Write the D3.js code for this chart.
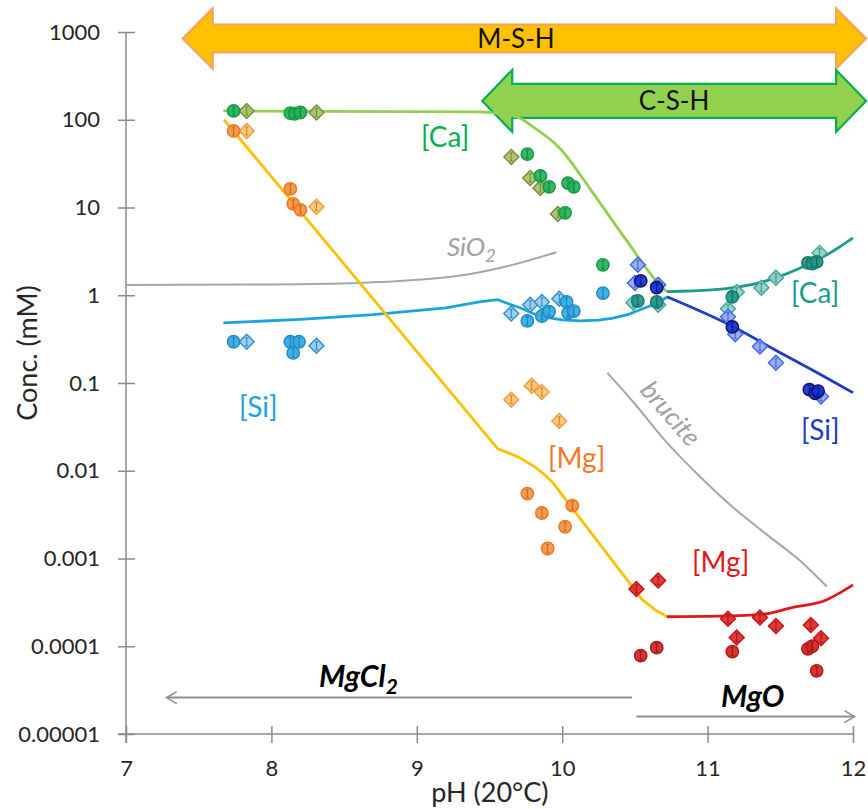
<!DOCTYPE html>
<html>
<head>
<meta charset="utf-8">
<script src="https://cdn.jsdelivr.net/npm/d3@7/dist/d3.min.js"></script>
<style>
  html, body { margin: 0; padding: 0; background: #fff; }
  svg { display: block; font-family: Lato, "Open Sans", sans-serif; }
</style>
</head>
<body>
<svg id="chart" width="868" height="809"></svg>
<script>
// ---------- axis ticks ----------
const xTicks = [7, 8, 9, 10, 11, 12];
const yTicks = [0.00001, 0.0001, 0.001, 0.01, 0.1, 1, 10, 100, 1000];
const yTickLabels = ["0.00001", "0.0001", "0.001", "0.01", "0.1", "1", "10", "100", "1000"];

// ---------- model lines [pH, mM] ----------
const caModelMgCl2 = [[7.67,126],[9.43,123],[9.69,107],[9.80,83],[9.98,48],[10.21,14.8],[10.44,4.27],[10.67,1.32],[10.72,1.1]];
const mgModelMgCl2 = [[7.674,100],[9.557,0.0178],[9.62,0.0162],[9.70,0.0143],[9.80,0.0114],[9.87,0.0093],[9.93,0.0075],[10.55,0.00034],[10.64,0.00026],[10.72,0.000217]];
const siModelMgCl2 = [[7.67,0.485],[8.2,0.53],[8.7,0.6],[9.2,0.72],[9.43,0.84],[9.557,0.89],[9.63,0.8],[9.71,0.72],[9.80,0.62],[9.89,0.56],[10.0,0.525],[10.12,0.51],[10.25,0.52],[10.35,0.55],[10.45,0.6],[10.53,0.68],[10.60,0.75],[10.67,0.83],[10.72,0.96]];
const caModelMgO = [[10.72,1.1],[11.03,1.15],[11.38,1.42],[11.61,1.95],[11.84,3.02],[12,4.51]];
const siModelMgO = [[10.72,0.96],[11.15,0.46],[11.49,0.226],[11.72,0.141],[12,0.0776]];
const mgModelMgO = [[10.72,0.000217],[11.0,0.000219],[11.36,0.000229],[11.58,0.000275],[11.82,0.000339],[11.9,0.000398],[12,0.000501]];
const sio2Line = [[7,1.31],[8,1.33],[8.6,1.38],[9.0,1.5],[9.3,1.68],[9.6,2.1],[9.96,3.09]];
const bruciteLine = [[10.31,0.1306],[10.49,0.0603],[10.72,0.0209],[10.95,0.0085],[11.17,0.00389],[11.41,0.00186],[11.64,0.00093],[11.82,0.00048]];

// ---------- measured points [pH, mM] ----------
const caGreenCircles = [[7.74,126],[8.13,119],[8.16,117],[8.20,121],[9.76,40.6],[9.85,22.9],[9.91,17.2],[10.04,19],[10.08,17.2],[10.02,8.7],[10.28,2.22]];
const caGreenDiamonds = [[7.83,126],[8.31,121],[9.65,37.7],[9.78,21.7],[9.85,16.7],[9.97,8.45]];
const mgOrangeCircles = [[7.74,74.5],[8.13,16.3],[8.15,11],[8.20,9.4],[9.76,0.0055],[9.86,0.0033],[9.90,0.0013],[10.02,0.0023],[10.07,0.004]];
const mgOrangeDiamonds = [[7.83,74.5],[8.31,10.2],[9.65,0.0646],[9.79,0.093],[9.86,0.079],[9.98,0.037]];
const siLightCircles = [[7.74,0.295],[8.13,0.295],[8.19,0.295],[8.15,0.22],[9.76,0.51],[9.86,0.58],[9.91,0.65],[10.03,0.84],[10.04,0.63],[10.08,0.66],[10.28,1.06]];
const siLightDiamonds = [[7.83,0.295],[8.31,0.266],[9.65,0.62],[9.78,0.78],[9.86,0.84],[9.98,0.91]];
const caTealDiamonds = [[10.49,0.82],[10.66,0.78],[11.14,0.7],[11.20,1.09],[11.37,1.22],[11.47,1.58],[11.77,3.04]];
const caTealCircles = [[10.52,0.86],[10.65,0.84],[11.17,0.96],[11.69,2.34],[11.72,2.3],[11.75,2.4]];
const siDarkDiamonds = [[10.52,2.22],[10.50,1.38],[10.66,1.32],[11.14,0.57],[11.19,0.36],[11.36,0.26],[11.47,0.17],[11.78,0.07]];
const siDarkCircles = [[10.54,1.46],[10.65,1.22],[11.17,0.436],[11.70,0.084],[11.74,0.076],[11.76,0.081]];
const mgRedDiamonds = [[10.51,0.00045],[10.66,0.00056],[11.14,0.000206],[11.20,0.000126],[11.36,0.000212],[11.47,0.00017],[11.71,0.000175],[11.78,0.000123]];
const mgRedCircles = [[10.54,0.0000782],[10.65,0.0000964],[11.17,0.000087],[11.69,0.0000935],[11.72,0.0001],[11.75,0.0000525]];

// ---------- annotation ranges ----------
const mshRange = [7.39, 12.09], mshLevel = 843;
const cshRange = [9.45, 12.09], cshLevel = 164;
const mgcl2Range = [10.48, 7.28], mgcl2Level = 0.000026;
const mgoRange = [10.51, 12.01], mgoLevel = 0.0000158;

// ---------- scales ----------
const svg = d3.select("#chart");
const x = d3.scaleLinear().domain([7, 12]).range([126, 853]);
const y = d3.scaleLog().domain([0.00001, 1000]).range([734, 32]);

const axisColor = "#8a8a8a";
const textColor = "#262626";

// ---------- axes ----------
const yAxis = d3.axisLeft(y).tickValues(yTicks).tickFormat((d, i) => yTickLabels[i]).tickSize(0).tickPadding(26);
const gy = svg.append("g").attr("transform", `translate(${x(7)},0)`).call(yAxis);
gy.select(".domain").remove();
gy.selectAll("text").attr("font-size", 22).attr("fill", textColor).attr("font-family", "Lato");
gy.selectAll(".tick").append("line").attr("x1", -8).attr("x2", 9).attr("stroke", axisColor).attr("stroke-width", 1.5);
svg.append("line").attr("x1", x(7)).attr("x2", x(7)).attr("y1", y(1000)).attr("y2", y(0.00001) + 9)
  .attr("stroke", axisColor).attr("stroke-width", 1.5);

const xAxis = d3.axisBottom(x).tickValues(xTicks).tickFormat(d3.format("d")).tickSize(0).tickPadding(26);
const gx = svg.append("g").attr("transform", `translate(0,${y(0.00001)})`).call(xAxis);
gx.select(".domain").remove();
gx.selectAll("text").attr("font-size", 22).attr("fill", textColor).attr("font-family", "Lato");
gx.selectAll(".tick").append("line").attr("y1", -8).attr("y2", 9).attr("stroke", axisColor).attr("stroke-width", 1.5);
svg.append("line").attr("x1", x(7) - 8).attr("x2", x(12)).attr("y1", y(0.00001)).attr("y2", y(0.00001))
  .attr("stroke", axisColor).attr("stroke-width", 1.5);

svg.append("text").attr("x", x(9.503)).attr("y", 802).attr("text-anchor", "middle")
  .attr("font-size", 27).attr("fill", textColor).text("pH (20°C)");
svg.append("text").attr("transform", `translate(37,${y(0.22)}) rotate(-90)`).attr("text-anchor", "middle")
  .attr("font-size", 27).attr("fill", textColor).text("Conc. (mM)");

// ---------- top arrows ----------
function blockArrow(x0, x1, yc, bodyH, headH, headL, fill, stroke) {
  const p = d3.path();
  p.moveTo(x0, yc);
  p.lineTo(x0 + headL, yc - headH);
  p.lineTo(x0 + headL, yc - bodyH);
  p.lineTo(x1 - headL, yc - bodyH);
  p.lineTo(x1 - headL, yc - headH);
  p.lineTo(x1, yc);
  p.lineTo(x1 - headL, yc + headH);
  p.lineTo(x1 - headL, yc + bodyH);
  p.lineTo(x0 + headL, yc + bodyH);
  p.lineTo(x0 + headL, yc + headH);
  p.closePath();
  svg.append("path").attr("d", p.toString()).attr("fill", fill).attr("stroke", stroke).attr("stroke-width", 2.2);
}
blockArrow(x(mshRange[0]), x(mshRange[1]), y(mshLevel), 14, 30, 30, "#FFC000", "#F4A261");
svg.append("text").attr("x", 516).attr("y", y(mshLevel) + 9).attr("text-anchor", "middle")
  .attr("font-size", 26).attr("fill", "#111").text("M-S-H");
blockArrow(x(cshRange[0]), x(cshRange[1]), y(cshLevel), 17, 31, 30, "#92D050", "#00B050");
svg.append("text").attr("x", 674).attr("y", y(cshLevel) + 9).attr("text-anchor", "middle")
  .attr("font-size", 26).attr("fill", "#111").text("C-S-H");

// ---------- lines ----------
const smooth = d3.line().x(d => x(d[0])).y(d => y(d[1])).curve(d3.curveMonotoneX);
const straight = d3.line().x(d => x(d[0])).y(d => y(d[1])).curve(d3.curveLinear);
function drawLine(data, color, w, gen) {
  svg.append("path").datum(data).attr("d", gen || smooth).attr("fill", "none")
    .attr("stroke", color).attr("stroke-width", w).attr("stroke-linejoin", "round");
}
drawLine(sio2Line, "#a6a6a6", 2);
drawLine(bruciteLine, "#a6a6a6", 2);
drawLine(siModelMgCl2, "#1CA3DE", 2.8, straight);
drawLine(mgModelMgCl2, "#FFC000", 2.8, straight);
drawLine(caModelMgCl2, "#92D050", 2.8);
drawLine(caModelMgO, "#1A9C8C", 2.8);
drawLine(siModelMgO, "#1F3BC7", 2.8);
drawLine(mgModelMgO, "#E01818", 2.8);

// ---------- markers ----------
function marker(data, shape, fill, stroke, bar) {
  const g = svg.append("g");
  const sel = g.selectAll("g").data(data).join("g")
    .attr("transform", d => `translate(${x(d[0])},${y(d[1])})`);
  if (shape === "circle") {
    sel.append("circle").attr("r", 6.2).attr("fill", fill).attr("stroke", stroke).attr("stroke-width", 1.4).attr("fill-opacity", 0.92);
  } else {
    sel.append("path").attr("d", "M0,-7.5L7.5,0L0,7.5L-7.5,0Z").attr("fill", fill).attr("stroke", stroke).attr("stroke-width", 1.4).attr("fill-opacity", 0.92);
  }
  sel.append("path").attr("d", "M-1.5,-4H1.5M0,-4V4M-1.5,4H1.5").attr("stroke", bar).attr("stroke-width", 1).attr("fill", "none").attr("opacity", 0.8);
}
marker(caGreenDiamonds, "diamond", "#A5C264", "#7B8A3C", "#6B7A2C");
marker(caGreenCircles, "circle", "#22B256", "#139646", "#0E7A3A");
marker(mgOrangeDiamonds, "diamond", "#F9C46A", "#F39A4A", "#C07020");
marker(mgOrangeCircles, "circle", "#F5923E", "#E87620", "#B85A18");
marker(siLightDiamonds, "diamond", "#8FCBEF", "#2E8FCB", "#1F6FA8");
marker(siLightCircles, "circle", "#2FAAE2", "#1E88C4", "#1670A8");
marker(caTealDiamonds, "diamond", "#8DCFC7", "#3BA699", "#26857A");
marker(caTealCircles, "circle", "#1F9585", "#13776A", "#0E5E54");
marker(siDarkDiamonds, "diamond", "#8EA7EE", "#3F66E6", "#2A4DC8");
marker(siDarkCircles, "circle", "#1530D8", "#0A1060", "#0A1060");
marker(mgRedDiamonds, "diamond", "#E32828", "#C01515", "#901010");
marker(mgRedCircles, "circle", "#D42222", "#B01414", "#801010");

// ---------- bottom arrows ----------
function thinArrow(x0, x1, yy) {
  const dir = Math.sign(x1 - x0);
  svg.append("line").attr("x1", x0).attr("x2", x1).attr("y1", yy).attr("y2", yy)
    .attr("stroke", "#8f8f8f").attr("stroke-width", 2);
  svg.append("path").attr("d", `M${x1 - dir * 10},${yy - 6}L${x1},${yy}L${x1 - dir * 10},${yy + 6}`)
    .attr("stroke", "#8f8f8f").attr("stroke-width", 1.6).attr("fill", "none");
}
thinArrow(x(mgcl2Range[0]), x(mgcl2Range[1]), y(mgcl2Level));
thinArrow(x(mgoRange[0]), x(mgoRange[1]), y(mgoLevel));

const t1 = svg.append("text").attr("x", 319).attr("y", 687).attr("font-size", 30)
  .attr("font-weight", "bold").attr("font-style", "italic").attr("fill", "#000");
t1.append("tspan").text("MgCl");
t1.append("tspan").attr("font-size", 21).attr("dy", 7).text("2");
svg.append("text").attr("x", 721).attr("y", 707).attr("font-size", 30)
  .attr("font-weight", "bold").attr("font-style", "italic").attr("fill", "#000").text("MgO");

// ---------- curve labels ----------
function label(tx, ty, txt, color, opts = {}) {
  const t = svg.append("text").attr("x", tx).attr("y", ty).attr("font-size", opts.size || 28)
    .attr("fill", color).text(txt);
  if (opts.italic) t.attr("font-style", "italic");
  if (opts.rotate) t.attr("transform", `rotate(${opts.rotate},${tx},${ty})`);
  return t;
}
label(421, 147, "[Ca]", "#00B050");
label(239, 417, "[Si]", "#1CA3DE");
label(548, 468, "[Mg]", "#F07828");
label(692, 572, "[Mg]", "#E01818");
label(791, 303, "[Ca]", "#1A9C8C");
label(801, 440, "[Si]", "#1F3BC7");
const s = svg.append("text").attr("x", 447).attr("y", 256).attr("font-size", 26)
  .attr("font-style", "italic").attr("fill", "#a0a0a0");
s.append("tspan").text("SiO");
s.append("tspan").attr("font-size", 18).attr("dy", 6).text("2");
label(639, 391, "brucite", "#a0a0a0", {italic: true, size: 26, rotate: 49});
</script>
</body>
</html>
